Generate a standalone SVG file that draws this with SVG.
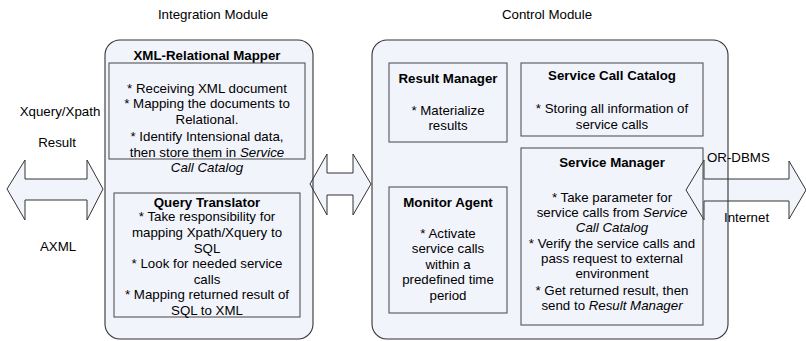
<svg xmlns="http://www.w3.org/2000/svg" width="806" height="341" viewBox="0 0 806 341">
<style>
text{font-family:"Liberation Sans",Arial,sans-serif;font-size:13.3px;fill:#000;text-anchor:middle}
.b{font-weight:bold}
.i{font-style:italic}
.s{text-anchor:start}
.bg{fill:#F2F4FC;stroke:none}
.cont{fill:none;stroke:#333;stroke-width:1.1}
.box{fill:none;stroke:#555;stroke-width:1.1}
.arr{fill:#F2F4FC;stroke:#333;stroke-width:1}
</style>
<rect width="806" height="341" fill="#fff"/>
<g id="backgrounds">
<rect class="bg" x="105" y="40" width="208" height="299" rx="15"/>
<rect class="bg" x="372" y="40" width="356" height="299" rx="15"/>
</g>
<g id="connectors">
<path class="arr" d="M7,189 L25,160 L25,179 L87,179 L87,160 L103,189 L87,220 L87,200 L25,200 L25,220 Z"/>
<path class="arr" d="M310,184 L327,154 L327,173 L353,173 L353,154 L371,184 L353,215 L353,195 L327,195 L327,215 Z"/>
<path class="arr" d="M686,190 L704,160 L704,179 L789,179 L789,161 L806,190 L789,219 L789,201 L704,201 L704,220 Z"/>
</g>
<g id="integration-module">
<rect class="cont" x="105" y="40" width="208" height="299" rx="15"/>
<text x="213" y="19">Integration Module</text>
</g>
<g id="xml-relational-mapper">
<text class="b" x="207" y="60">XML-Relational Mapper</text>
<rect class="box" x="109" y="63" width="196" height="96"/>
<text x="207" y="92.5">* Receiving XML document</text>
<text x="207" y="108">* Mapping the documents to</text>
<text x="207" y="124">Relational.</text>
<text x="207" y="140.5">* Identify Intensional data,</text>
<text x="207" y="156.5">then store them in <tspan class="i">Service</tspan></text>
<text class="i" x="207" y="172">Call Catalog</text>
</g>
<g id="query-translator">
<rect class="box" x="114" y="193" width="186" height="124"/>
<text class="b" x="207" y="206.5">Query Translator</text>
<text x="207" y="221">* Take responsibility for</text>
<text x="207" y="237">mapping Xpath/Xquery to</text>
<text x="207" y="252.5">SQL</text>
<text x="207" y="268">* Look for needed service</text>
<text x="207" y="283.5">calls</text>
<text x="207" y="299">* Mapping returned result of</text>
<text x="207" y="314.5">SQL to XML</text>
</g>
<g id="control-module">
<rect class="cont" x="372" y="40" width="356" height="299" rx="15"/>
<text x="547" y="19">Control Module</text>
</g>
<g id="result-manager">
<rect class="box" x="389" y="63" width="118" height="79"/>
<text class="b" x="448" y="82.5">Result Manager</text>
<text x="448" y="115">* Materialize</text>
<text x="448" y="130">results</text>
</g>
<g id="service-call-catalog">
<rect class="box" x="521" y="63" width="182" height="73"/>
<text class="b" x="612" y="80">Service Call Catalog</text>
<text x="612" y="113">* Storing all information of</text>
<text x="612" y="129">service calls</text>
</g>
<g id="service-manager">
<rect class="box" x="521" y="148" width="182" height="177"/>
<text class="b" x="612" y="166.5">Service Manager</text>
<text x="612" y="201.5">* Take parameter for</text>
<text x="612" y="216.5">service calls from <tspan class="i">Service</tspan></text>
<text class="i" x="612" y="231.5">Call Catalog</text>
<text x="612" y="248">* Verify the service calls and</text>
<text x="612" y="263">pass request to external</text>
<text x="612" y="278">environment</text>
<text x="612" y="294.5">* Get returned result, then</text>
<text x="612" y="309.5">send to <tspan class="i">Result Manager</tspan></text>
</g>
<g id="monitor-agent">
<rect class="box" x="389" y="187" width="118" height="126"/>
<text class="b" x="448" y="206.5">Monitor Agent</text>
<text x="448" y="238">* Activate</text>
<text x="448" y="253">service calls</text>
<text x="448" y="268.5">within a</text>
<text x="448" y="283.5">predefined time</text>
<text x="448" y="299.5">period</text>
</g>
<g id="labels">
<text x="60" y="116">Xquery/Xpath</text>
<text x="57" y="146.5">Result</text>
<text x="58" y="251">AXML</text>
<text class="s" x="707" y="161.5">OR-DBMS</text>
<text class="s" x="724" y="221.5">Internet</text>
</g>
</svg>
